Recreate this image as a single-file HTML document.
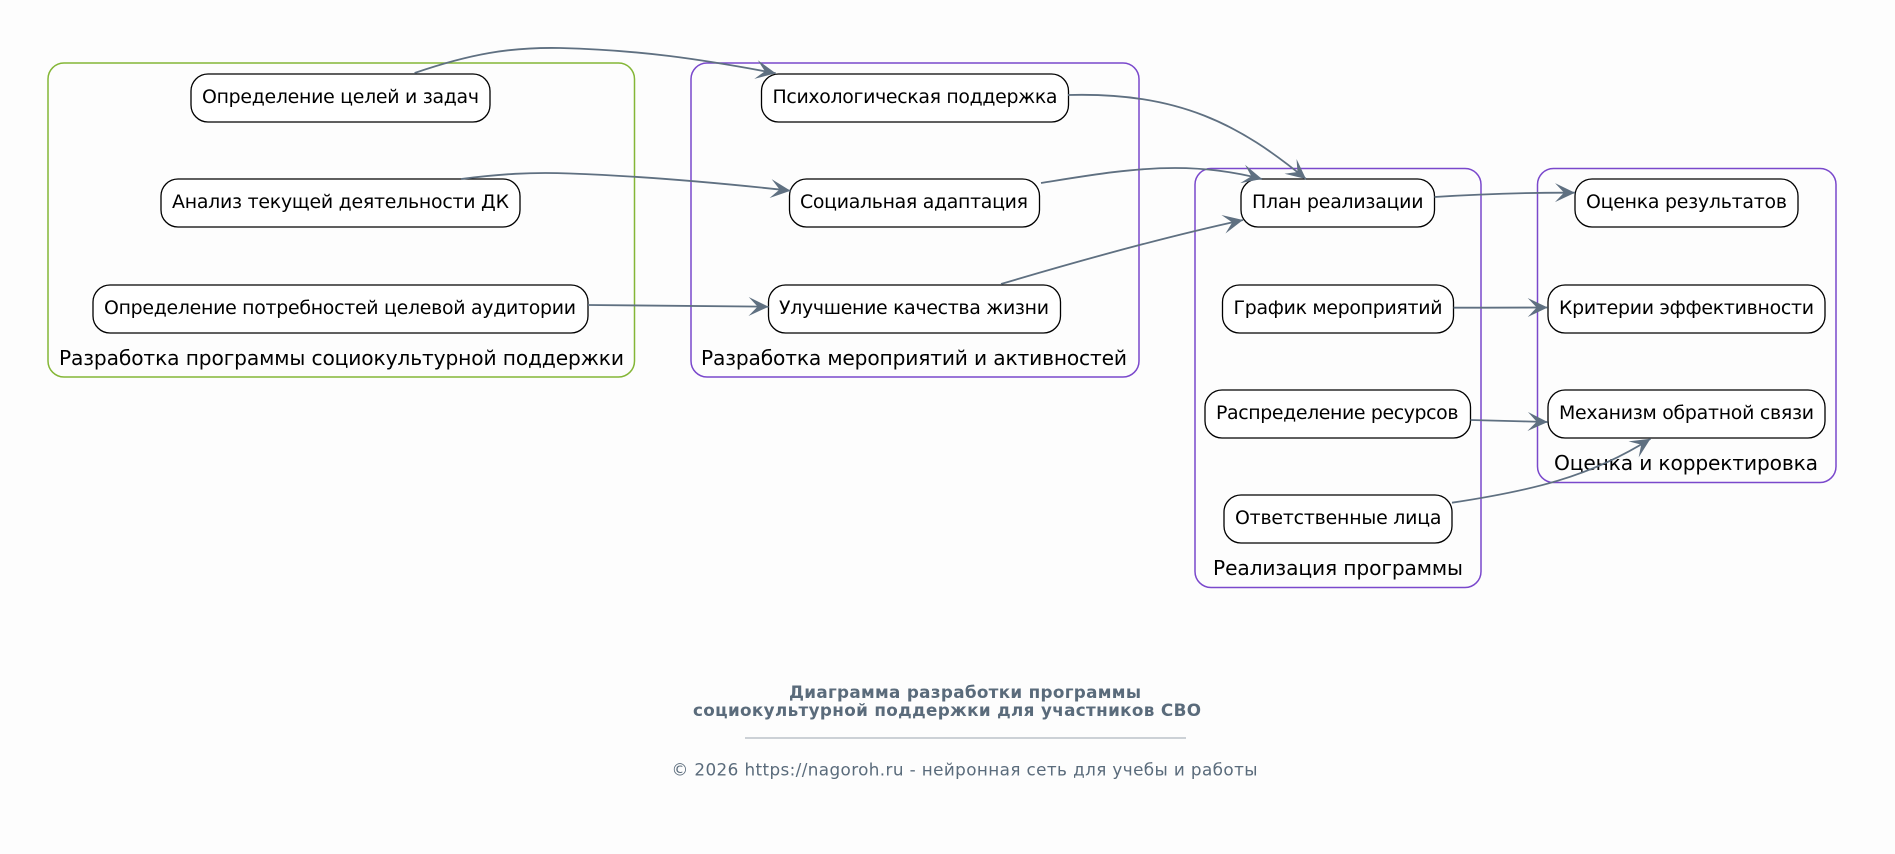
<!DOCTYPE html>
<html lang="ru">
<head>
<meta charset="utf-8">
<title>Диаграмма</title>
<style>
html,body{margin:0;padding:0;background:#fdfdfd;width:1895px;height:854px;overflow:hidden}
svg{display:block}
text{font-family:"DejaVu Sans","Liberation Sans",sans-serif}
.c{fill:none;stroke-width:1.5}
.n{fill:#fff;stroke:#000;stroke-width:1.3}
.t{font-size:18.9px;fill:#000}
.l{font-size:20.2px;fill:#000}
.e{fill:none;stroke:#5f7081;stroke-width:1.8}
.h{fill:#5f7081;stroke:none}
</style>
</head>
<body>
<svg width="1895" height="854" viewBox="0 0 1895 854" xmlns="http://www.w3.org/2000/svg">
<defs>
<marker id="a" markerUnits="userSpaceOnUse" markerWidth="24" markerHeight="24" refX="20" refY="12" orient="auto" overflow="visible">
<path class="h" d="M20,12 L0,2.5 L9,12 L0,21.5 Z"/>
</marker>
</defs>

<rect class="c" stroke="#84b636" x="48" y="63" width="586.5" height="314" rx="16"/>
<rect class="c" stroke="#7a48cc" x="691" y="63" width="448" height="314" rx="16"/>
<rect class="c" stroke="#7a48cc" x="1195" y="168.5" width="286" height="419" rx="16"/>
<rect class="c" stroke="#7a48cc" x="1537.5" y="168.5" width="298.5" height="314" rx="16"/>

<rect class="n" x="191" y="74" width="299" height="48" rx="17"/>
<rect class="n" x="161" y="179" width="359" height="48" rx="17"/>
<rect class="n" x="93" y="285" width="495" height="48" rx="17"/>
<rect class="n" x="761.5" y="74" width="307" height="48" rx="17"/>
<rect class="n" x="789.5" y="179" width="250" height="48" rx="17"/>
<rect class="n" x="768.5" y="285" width="292" height="48" rx="17"/>
<rect class="n" x="1241" y="179" width="193.5" height="48" rx="17"/>
<rect class="n" x="1222.5" y="285" width="231" height="48" rx="17"/>
<rect class="n" x="1205" y="390" width="265.5" height="48" rx="17"/>
<rect class="n" x="1224" y="495" width="228" height="48" rx="17"/>
<rect class="n" x="1575" y="179" width="223" height="48" rx="17"/>
<rect class="n" x="1548" y="285" width="277" height="48" rx="17"/>
<rect class="n" x="1548" y="390" width="277" height="48" rx="17"/>

<text class="t" x="202" y="103" textLength="277">Определение целей и задач</text>
<text class="t" x="172" y="208" textLength="337">Анализ текущей деятельности ДК</text>
<text class="t" x="104" y="314" textLength="472">Определение потребностей целевой аудитории</text>
<text class="t" x="772.5" y="103" textLength="285">Психологическая поддержка</text>
<text class="t" x="800" y="208" textLength="228">Социальная адаптация</text>
<text class="t" x="779" y="314" textLength="270">Улучшение качества жизни</text>
<text class="t" x="1252" y="208" textLength="171.5">План реализации</text>
<text class="t" x="1233.5" y="314" textLength="209">График мероприятий</text>
<text class="t" x="1216" y="419" textLength="242.5">Распределение ресурсов</text>
<text class="t" x="1235" y="524" textLength="206.5">Ответственные лица</text>
<text class="t" x="1586" y="208" textLength="201">Оценка результатов</text>
<text class="t" x="1559" y="314" textLength="255">Критерии эффективности</text>
<text class="t" x="1559" y="419" textLength="255">Механизм обратной связи</text>

<text class="l" x="59" y="365" textLength="565">Разработка программы социокультурной поддержки</text>
<text class="l" x="701" y="365" textLength="426">Разработка мероприятий и активностей</text>
<text class="l" x="1213" y="575" textLength="250">Реализация программы</text>
<text class="l" x="1554" y="470" textLength="264">Оценка и корректировка</text>

<path class="e" marker-end="url(#a)" d="M414.6,73 C470,54 510,47 560,48 C640,50 700,59 775.7,73.3"/>
<path class="e" marker-end="url(#a)" d="M461,179 C500,174 530,172 570,173.5 C640,176 720,183 790.5,190.7"/>
<path class="e" marker-end="url(#a)" d="M588,305 C650,305.5 710,306 768.6,306.7"/>
<path class="e" marker-end="url(#a)" d="M1068,95 C1180,92 1240,125 1306,179"/>
<path class="e" marker-end="url(#a)" d="M1041,183 C1085,176 1130,168 1175,168 C1205,168 1235,172 1262,179"/>
<path class="e" marker-end="url(#a)" d="M1001,284 C1085,259 1165,237 1243,220"/>
<path class="e" marker-end="url(#a)" d="M1434.5,197 C1480,194 1530,192.5 1575,192.7"/>
<path class="e" marker-end="url(#a)" d="M1453.6,307.7 C1485,307.7 1515,307.6 1547.7,307.5"/>
<path class="e" marker-end="url(#a)" d="M1470.5,420 C1497,420.8 1522,421.3 1547.7,422"/>
<path class="e" marker-end="url(#a)" d="M1452,502.7 C1530,491 1590,477 1650.5,438.7"/>

<text x="789" y="698" textLength="352" style="font-size:16.8px;font-weight:bold;fill:#5a6b7b">Диаграмма разработки программы</text>
<text x="693" y="716" textLength="508" style="font-size:16.8px;font-weight:bold;fill:#5a6b7b">социокультурной поддержки для участников СВО</text>
<line x1="745" y1="738" x2="1186" y2="738" stroke="#5a6b7b" stroke-width="0.8" opacity=".8"/>
<text x="671.5" y="775.5" textLength="586" style="font-size:16.8px;fill:#5a6b7b">© 2026 https://nagoroh.ru - нейронная сеть для учебы и работы</text>
</svg>
</body>
</html>
